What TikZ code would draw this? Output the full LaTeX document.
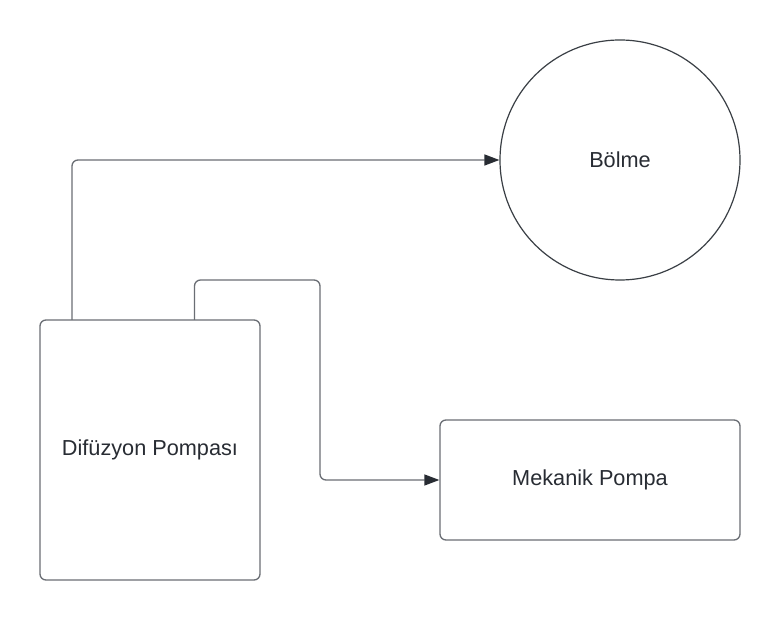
\documentclass[tikz,border=0pt]{standalone}
\usepackage{fontspec}
\setmainfont{Liberation Sans}
\usetikzlibrary{arrows.meta}
\definecolor{txt}{HTML}{282C33}
\definecolor{edge}{HTML}{6A6E74}
\definecolor{circ}{HTML}{3A3F45}
\tikzset{
  boxnode/.style={draw=edge, line width=1.3pt, rounded corners=6pt, inner sep=0pt, text=txt, font=\fontsize{21.7}{26}\selectfont},
  circnode/.style={draw=circ, line width=1.2pt, circle, inner sep=0pt, text=txt, font=\fontsize{21.7}{26}\selectfont},
  conn/.style={draw=edge, line width=1.3pt, rounded corners=6pt, -{Triangle[length=15pt,width=11pt,color=txt]}}
}
\begin{document}
\begin{tikzpicture}[x=1pt,y=-1pt]
\useasboundingbox (0,0) rectangle (780,620);
\fill[white] (0,0) rectangle (780,620);
\node[circnode, minimum size=240pt] (bolme) at (620,160) {Bölme};
\node[boxnode, minimum width=220pt, minimum height=260pt] (dif) at (150,450) {Difüzyon Pompası};
\node[boxnode, minimum width=300pt, minimum height=120pt] (mek) at (590,480) {Mekanik Pompa};
\coordinate (d1) at (72,320);
\coordinate (d2) at (194.5,320);
\draw[conn] (d1) |- (bolme.west);
\draw[conn] (d2) -- (194.5,280) -- (320,280) |- (mek.west);
\end{tikzpicture}
\end{document}
